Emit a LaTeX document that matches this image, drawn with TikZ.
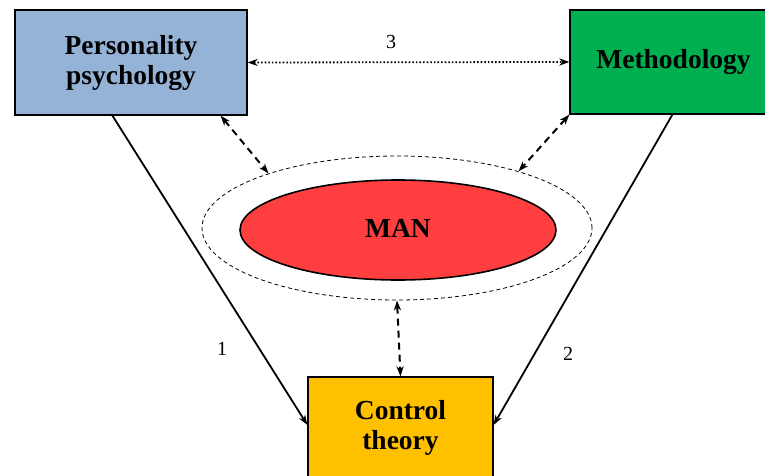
\documentclass[tikz,border=0pt]{standalone}
\usepackage{fontspec}
\setmainfont{Liberation Serif}
\usepackage{xcolor}
\usetikzlibrary{arrows.meta}
\usetikzlibrary{shapes.geometric}

\definecolor{ppblue}{HTML}{95B3D7}
\definecolor{methgreen}{HTML}{00B050}
\definecolor{manred}{HTML}{FF3F3F}
\definecolor{ctyellow}{HTML}{FFC000}

\begin{document}
\begin{tikzpicture}[x=1pt,y=-1pt,
  box/.style={draw,line width=1.2pt,align=center,inner sep=0pt,
    font=\fontsize{27.5}{30}\selectfont\bfseries},
  num/.style={font=\fontsize{20}{24}\selectfont},
  rel/.style={line width=1.8pt,-{Stealth[length=10pt,width=7pt,inset=3pt]}},
  link/.style={line width=2pt,dash pattern=on 7pt off 5pt,
    {Stealth[length=10pt,width=7pt,inset=3pt]}-{Stealth[length=10pt,width=7pt,inset=3pt]}}]
  \clip (0,0) rectangle (765,476);
  \node (pp) [box,fill=ppblue,minimum width=232pt,minimum height=105pt]
    at (131,62.5) {Personality\\psychology};
  \node (meth) [box,fill=methgreen,minimum width=207pt,minimum height=104pt]
    at (673.5,62) {Methodology};
  \node (ct) [box,fill=ctyellow,minimum width=185pt,minimum height=102pt]
    at (400.5,428) {Control\\theory};
  \node (ring) [ellipse,draw,line width=.8pt,dash pattern=on 4pt off 3pt,
    minimum width=390pt,minimum height=144pt,inner sep=0pt] at (397,228) {};
  \node (man) [ellipse,draw,fill=manred,line width=1.6pt,inner sep=0pt,
    minimum width=316pt,minimum height=100pt,
    font=\fontsize{27.5}{30}\selectfont\bfseries] at (398,230) {\raisebox{4pt}{MAN}};

  \path (node cs:name=pp,anchor=south west) +(98,0) coordinate (ppo);
  \path (node cs:name=ct,anchor=west) +(0,-3) coordinate (cti);
  \draw[rel] (ppo) -- (cti);
  \path (node cs:name=meth,anchor=south west) +(103,0) coordinate (metho);
  \path (node cs:name=ct,anchor=east) +(0,-3) coordinate (cto);
  \draw[rel] (metho) -- (cto);

  \draw[line width=1.8pt,dash pattern=on 1.6pt off 2pt,{Stealth[length=10pt,width=7pt,inset=3pt]}-{Stealth[length=10pt,width=7pt,inset=3pt]}]
    (pp.east) -- (meth.west);
  \path (node cs:name=pp,anchor=south east) +(-27,0) coordinate (ppi);
  \draw[link] (ppi) -- (ring.157);
  \draw[link] (meth.south west) -- (ring.25);
  \draw[link] (ring.south) -- (ct.north);

  \node (l1) [num] at (222,349) {1};
  \node (l2) [num] at (568,354) {2};
  \node (l3) [num] at (391,42) {3};
\end{tikzpicture}
\end{document}
